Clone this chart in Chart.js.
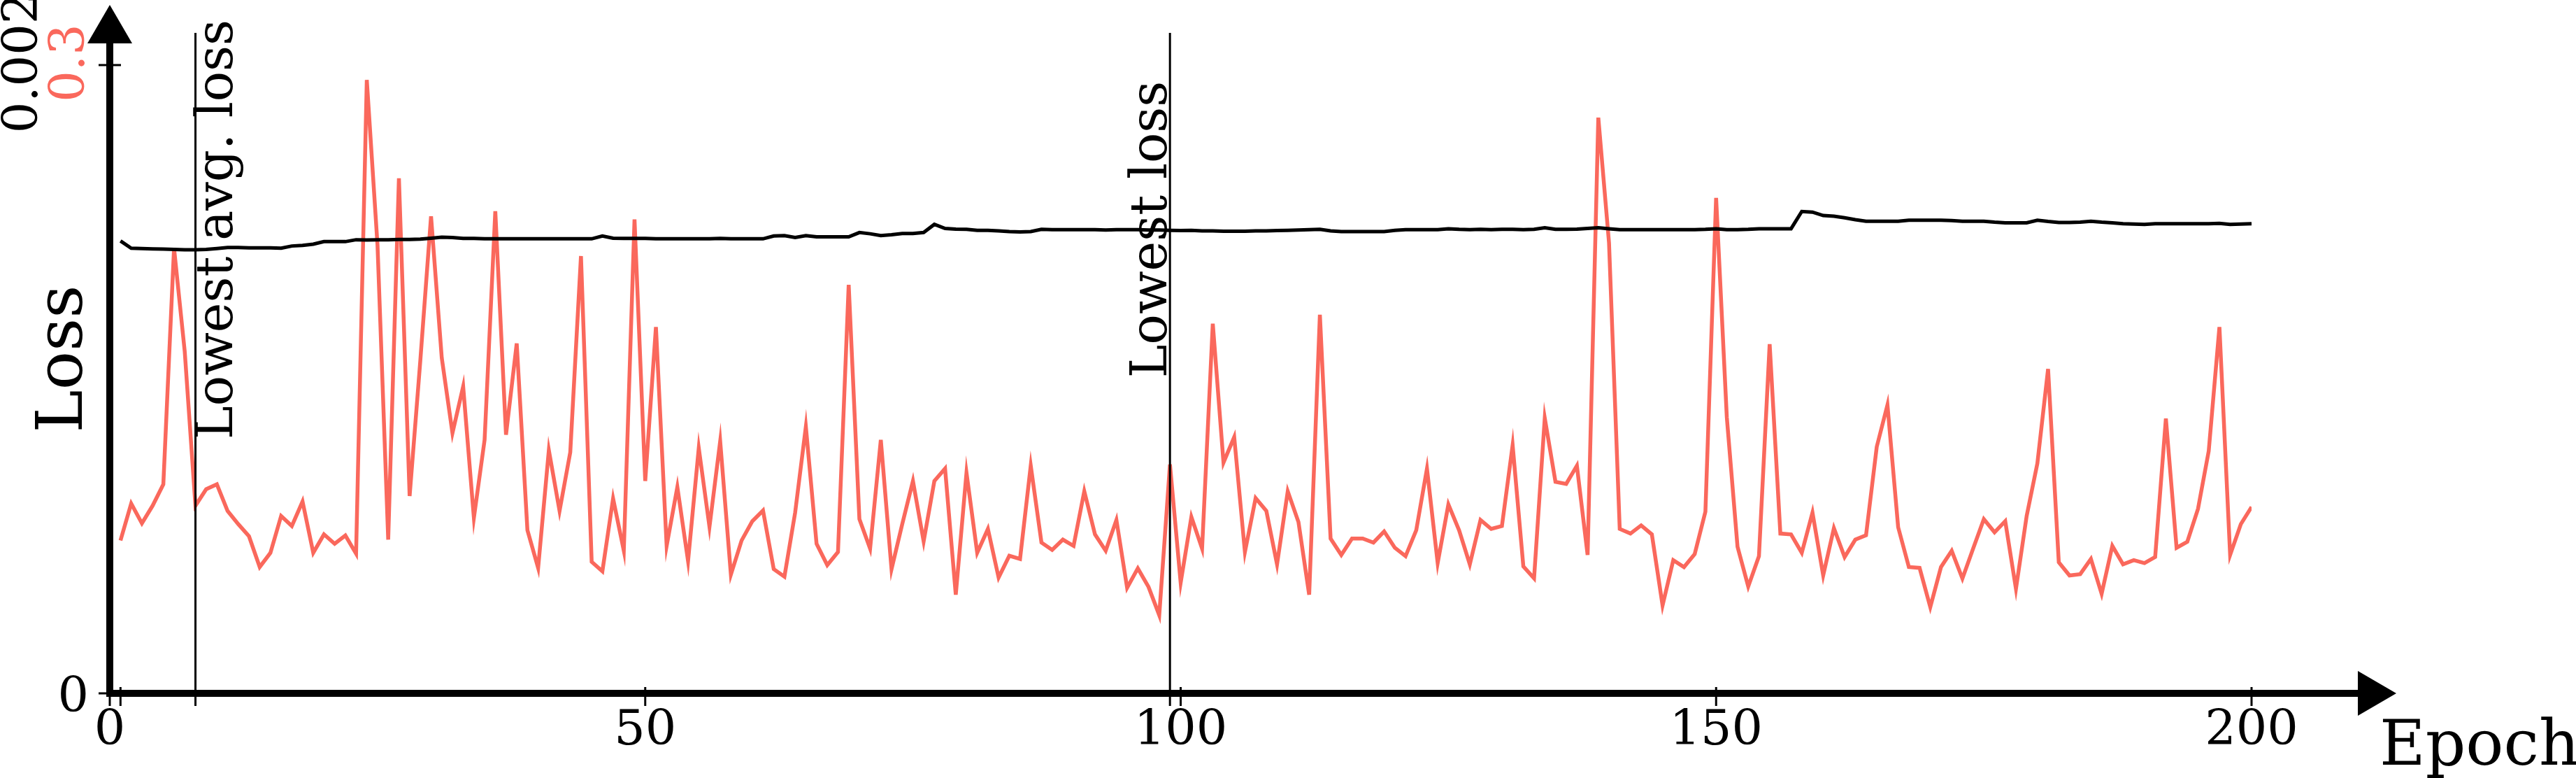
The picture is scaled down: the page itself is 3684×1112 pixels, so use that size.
<!DOCTYPE html>
<html>
<head>
<meta charset="utf-8">
<script src="https://cdn.jsdelivr.net/npm/chart.js@4.4.1/dist/chart.umd.min.js"></script>
<style>
  html, body { margin: 0; padding: 0; background: #fff; }
  #wrap { width: 3684px; height: 1112px; }
</style>
</head>
<body>
<div id="wrap"><canvas id="lossChart"></canvas></div>
<script>
// epochs 1..200 (x positions of the points)
const epochs = [];
for (let e = 1; e <= 200; e++) epochs.push(e);

// per-epoch loss (red, left scale 0..0.3)
const lossValues = [
  0.0730, 0.0906, 0.0812, 0.0896, 0.0998, 0.2126, 0.1632, 0.0896, 0.0975, 0.0998,
  0.0871, 0.0808, 0.0750, 0.0603, 0.0671, 0.0847, 0.0799, 0.0916, 0.0671, 0.0759,
  0.0714, 0.0754, 0.0667, 0.2929, 0.2141, 0.0734, 0.2459, 0.0942, 0.1590, 0.2278,
  0.1602, 0.1243, 0.1465, 0.0838, 0.1210, 0.2302, 0.1235, 0.1671, 0.0779, 0.0599,
  0.1161, 0.0871, 0.1151, 0.2088, 0.0628, 0.0583, 0.0930, 0.0681, 0.2263, 0.1014,
  0.1749, 0.0704, 0.0985, 0.0632, 0.1171, 0.0795, 0.1204, 0.0567, 0.0730, 0.0822,
  0.0873, 0.0593, 0.0557, 0.0863, 0.1273, 0.0714, 0.0612, 0.0675, 0.1951, 0.0832,
  0.0691, 0.1210, 0.0593, 0.0808, 0.1014, 0.0726, 0.1014, 0.1073, 0.0471, 0.1053,
  0.0671, 0.0785, 0.0553, 0.0657, 0.0642, 0.1087, 0.0720, 0.0685, 0.0734, 0.0704,
  0.0965, 0.0759, 0.0681, 0.0828, 0.0504, 0.0597, 0.0508, 0.0373, 0.1093, 0.0528,
  0.0842, 0.0691, 0.1765, 0.1102, 0.1224, 0.0675, 0.0932, 0.0871, 0.0616, 0.0965,
  0.0818, 0.0471, 0.1808, 0.0739, 0.0661, 0.0739, 0.0739, 0.0720, 0.0773, 0.0695,
  0.0655, 0.0779, 0.1073, 0.0622, 0.0902, 0.0779, 0.0616, 0.0828, 0.0785, 0.0799,
  0.1185, 0.0606, 0.0549, 0.1314, 0.1010, 0.1000, 0.1087, 0.0661, 0.2749, 0.2151,
  0.0785, 0.0763, 0.0802, 0.0759, 0.0420, 0.0636, 0.0603, 0.0665, 0.0867, 0.2366,
  0.1318, 0.0700, 0.0510, 0.0655, 0.1667, 0.0763, 0.0759, 0.0671, 0.0863, 0.0563,
  0.0789, 0.0651, 0.0734, 0.0755, 0.1177, 0.1377, 0.0793, 0.0603, 0.0599, 0.0412,
  0.0603, 0.0681, 0.0548, 0.0691, 0.0832, 0.0769, 0.0822, 0.0499, 0.0847, 0.1098,
  0.1549, 0.0626, 0.0563, 0.0569, 0.0642, 0.0475, 0.0704, 0.0616, 0.0636, 0.0622,
  0.0651, 0.1312, 0.0695, 0.0724, 0.0881, 0.1157, 0.1749, 0.0661, 0.0808, 0.0890
];

// running average loss (black, second scale 0..0.002)
const avgLossValues = [
  0.001440, 0.001417, 0.001416, 0.001415, 0.001414, 0.001413, 0.001412, 0.001412, 0.001413, 0.001416,
  0.001419, 0.001419, 0.001418, 0.001418, 0.001418, 0.001417, 0.001424, 0.001426, 0.001430, 0.001438,
  0.001438, 0.001438, 0.001444, 0.001443, 0.001444, 0.001444, 0.001445, 0.001445, 0.001446, 0.001449,
  0.001452, 0.001451, 0.001448, 0.001448, 0.001447, 0.001447, 0.001447, 0.001447, 0.001447, 0.001447,
  0.001447, 0.001447, 0.001447, 0.001447, 0.001447, 0.001456, 0.001449, 0.001448, 0.001448, 0.001448,
  0.001447, 0.001447, 0.001447, 0.001447, 0.001447, 0.001447, 0.001448, 0.001447, 0.001447, 0.001447,
  0.001447, 0.001456, 0.001457, 0.001451, 0.001457, 0.001453, 0.001453, 0.001453, 0.001453, 0.001467,
  0.001463, 0.001457, 0.001460, 0.001464, 0.001464, 0.001467, 0.001493, 0.001480, 0.001478, 0.001477,
  0.001474, 0.001474, 0.001472, 0.001470, 0.001469, 0.001470, 0.001477, 0.001476, 0.001476, 0.001476,
  0.001476, 0.001476, 0.001475, 0.001476, 0.001476, 0.001476, 0.001475, 0.001475, 0.001474, 0.001473,
  0.001474, 0.001472, 0.001472, 0.001471, 0.001471, 0.001471, 0.001472, 0.001472, 0.001473, 0.001474,
  0.001475, 0.001476, 0.001477, 0.001472, 0.001470, 0.001470, 0.001470, 0.001470, 0.001470, 0.001474,
  0.001476, 0.001476, 0.001476, 0.001476, 0.001479, 0.001477, 0.001476, 0.001477, 0.001476, 0.001477,
  0.001477, 0.001476, 0.001477, 0.001482, 0.001477, 0.001477, 0.001478, 0.001480, 0.001482, 0.001479,
  0.001476, 0.001476, 0.001476, 0.001476, 0.001476, 0.001476, 0.001476, 0.001476, 0.001477, 0.001479,
  0.001476, 0.001476, 0.001477, 0.001479, 0.001479, 0.001479, 0.001479, 0.001534, 0.001532, 0.001521,
  0.001519, 0.001514, 0.001508, 0.001503, 0.001503, 0.001503, 0.001503, 0.001506, 0.001506, 0.001506,
  0.001506, 0.001505, 0.001503, 0.001503, 0.001503, 0.001500, 0.001498, 0.001498, 0.001498, 0.001506,
  0.001502, 0.001499, 0.001499, 0.001500, 0.001503, 0.001500, 0.001498, 0.001495, 0.001494, 0.001493,
  0.001495, 0.001495, 0.001495, 0.001495, 0.001495, 0.001495, 0.001496, 0.001493, 0.001494, 0.001495
];

const xTickValues = [0, 50, 100, 150, 200];
const xExtraTicks = [1];
const lossTickTop = 0.3;
const avgTickTop = 0.002;

const markerEpochs = [8, 99];
const markerLabels = ["Lowest avg. loss", "Lowest loss"];
const markerSides = ["right", "left"];

const RED = "#fa685c";
const SERIF = '"DejaVu Serif", serif';

const arrowAxes = {
  id: "arrowAxes",
  afterDatasetsDraw(chart) {
    const ctx = chart.ctx;
    const xs = chart.scales.x, ys = chart.scales.y, ya = chart.scales.yAvg;
    const x0 = xs.getPixelForValue(0);
    const y0 = ys.getPixelForValue(0);
    const yTop = ys.getPixelForValue(lossTickTop);
    const xEnd = 3372;
    const yEnd = 62;

    ctx.save();
    ctx.fillStyle = "#000";
    ctx.strokeStyle = "#000";

    // marker lines + labels
    ctx.lineWidth = 3;
    markerEpochs.forEach((ep, i) => {
      const px = xs.getPixelForValue(ep);
      ctx.beginPath();
      ctx.moveTo(px, 47);
      ctx.lineTo(px, y0 + 18);
      ctx.stroke();
      ctx.save();
      ctx.translate(px, 328);
      ctx.rotate(-Math.PI / 2);
      ctx.font = "72px " + SERIF;
      ctx.textAlign = "center";
      ctx.textBaseline = "alphabetic";
      ctx.fillText(markerLabels[i], 0, markerSides[i] === "right" ? 52 : -5);
      ctx.restore();
    });

    // axis lines
    ctx.lineWidth = 10;
    ctx.beginPath();
    ctx.moveTo(x0, y0 + 5);
    ctx.lineTo(x0, yEnd);
    ctx.stroke();
    ctx.beginPath();
    ctx.moveTo(x0 - 5, y0);
    ctx.lineTo(xEnd, y0);
    ctx.stroke();

    // arrow heads
    ctx.beginPath();
    ctx.moveTo(x0, 7);
    ctx.lineTo(x0 - 32, yEnd);
    ctx.lineTo(x0 + 32, yEnd);
    ctx.closePath();
    ctx.fill();
    ctx.beginPath();
    ctx.moveTo(xEnd + 55, y0);
    ctx.lineTo(xEnd, y0 - 32);
    ctx.lineTo(xEnd, y0 + 32);
    ctx.closePath();
    ctx.fill();

    // ticks
    ctx.lineWidth = 3;
    xTickValues.concat(xExtraTicks).forEach(v => {
      const px = xs.getPixelForValue(v);
      ctx.beginPath();
      ctx.moveTo(px, y0 - 9);
      ctx.lineTo(px, y0 + 18);
      ctx.stroke();
    });
    ctx.beginPath();
    ctx.moveTo(x0 - 16, y0);
    ctx.lineTo(x0, y0);
    ctx.moveTo(x0 - 16, yTop);
    ctx.lineTo(x0 + 16, yTop);
    ctx.stroke();

    // x tick labels
    ctx.font = "70px " + SERIF;
    ctx.textAlign = "center";
    ctx.textBaseline = "alphabetic";
    xTickValues.forEach(v => {
      ctx.fillText(String(v), xs.getPixelForValue(v), y0 + 73);
    });

    // y tick labels
    ctx.textAlign = "right";
    ctx.fillText("0", x0 - 30, y0 + 26);
    ctx.save();
    ctx.translate(0, ya.getPixelForValue(avgTickTop) - 3);
    ctx.rotate(-Math.PI / 2);
    ctx.textAlign = "center";
    ctx.fillStyle = "#000";
    ctx.fillText(String(avgTickTop), 0, 53);
    ctx.fillStyle = RED;
    ctx.fillText(String(lossTickTop), 0, 120);
    ctx.restore();

    // axis titles
    ctx.fillStyle = "#000";
    ctx.font = "90px " + SERIF;
    ctx.textAlign = "left";
    ctx.fillText("Epoch", 3403, 1093);
    ctx.save();
    ctx.translate(117, 513);
    ctx.rotate(-Math.PI / 2);
    ctx.font = "92px " + SERIF;
    ctx.textAlign = "center";
    ctx.fillText("Loss", 0, 0);
    ctx.restore();

    ctx.restore();
  }
};

new Chart(document.getElementById("lossChart"), {
  type: "line",
  data: {
    datasets: [
      {
        label: "Avg. loss",
        data: epochs.map((e, i) => ({ x: e, y: avgLossValues[i] })),
        yAxisID: "yAvg",
        borderColor: "#000",
        borderWidth: 5,
        pointRadius: 0,
        tension: 0,
        order: 0
      },
      {
        label: "Loss",
        data: epochs.map((e, i) => ({ x: e, y: lossValues[i] })),
        yAxisID: "y",
        borderColor: RED,
        borderWidth: 5.5,
        pointRadius: 0,
        tension: 0,
        order: 1
      }
    ]
  },
  options: {
    responsive: true,
    maintainAspectRatio: false,
    devicePixelRatio: 1,
    animation: false,
    layout: { padding: { left: 157, right: 464, top: 93, bottom: 121 } },
    plugins: { legend: { display: false }, tooltip: { enabled: false } },
    scales: {
      x: { type: "linear", min: 0, max: 200, display: false },
      y: { type: "linear", min: 0, max: lossTickTop, display: false },
      yAvg: { type: "linear", position: "left", min: 0, max: avgTickTop, display: false }
    }
  },
  plugins: [arrowAxes]
});
</script>
</body>
</html>
